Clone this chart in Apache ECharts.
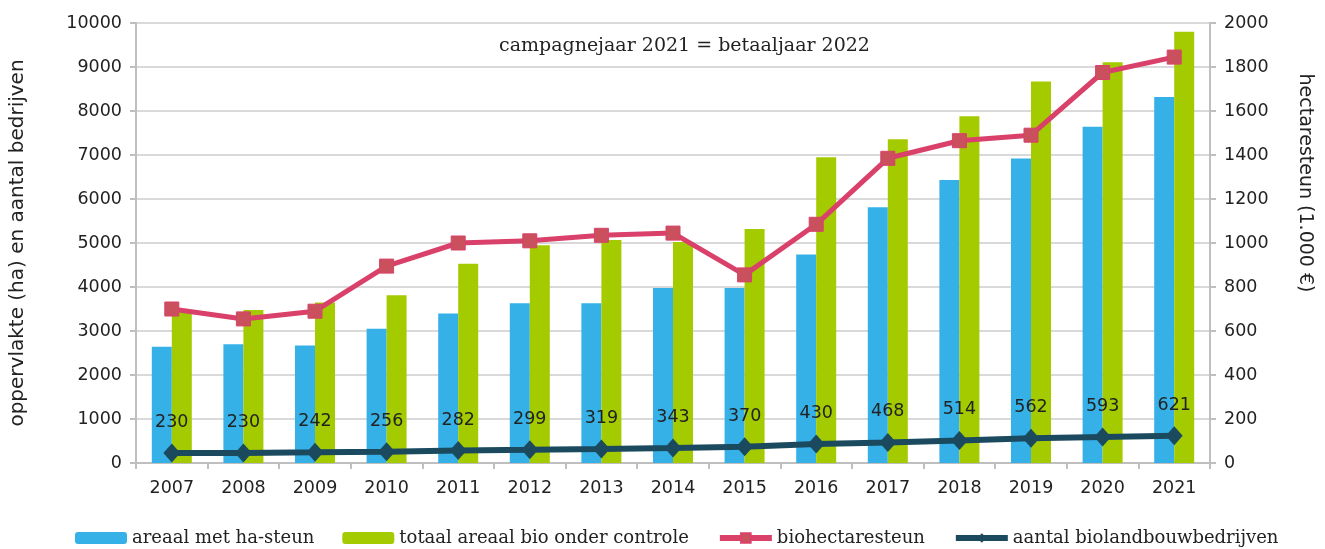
<!DOCTYPE html>
<html>
<head>
<meta charset="utf-8">
<script src="https://cdn.jsdelivr.net/npm/echarts@6/dist/echarts.min.js"></script>
<style>
	html,body{margin:0;padding:0;background:#fff;}
	#chart{width:1325px;height:549px;}
</style>
</head>
<body>
<div id="chart"></div>
<script>
var years = ['2007','2008','2009','2010','2011','2012','2013','2014','2015','2016','2017','2018','2019','2020','2021'];
var areaalSteun = [2640,2700,2670,3050,3400,3630,3630,3980,3980,4740,5810,6430,6920,7640,8320];
var areaalTotaal = [3450,3480,3650,3810,4530,4950,5070,5020,5320,6950,7360,7880,8670,9110,9800];
var hectaresteun = [700,655,690,895,1000,1010,1035,1045,855,1085,1385,1465,1490,1775,1845];
var bedrijven = [230,230,242,256,282,299,319,343,370,430,468,514,562,593,621];

var sans = 'DejaVu Sans';
var serif = 'DejaVu Serif';

var Chart = {
	init: function(){
		var myChart = echarts.init(document.getElementById('chart'));
		myChart.setOption(this.getOption());
	},
	getOption: function(){
		var axisLine = {show: true, lineStyle: {color: '#bfbfbf', width: 2}};
		var tick = {show: true, length: 6, lineStyle: {color: '#bfbfbf', width: 2}};
		var label = {color: '#222', fontFamily: sans, fontSize: 17.5, formatter: function(v){ return String(v); }};

		return {
			animation: false,
			title: {
				text: 'campagnejaar 2021 = betaaljaar 2022',
				left: 494,
				top: 32,
				textStyle: {fontFamily: serif, fontWeight: 'normal', fontSize: 19, color: '#222'}
			},
			grid: {left: 136, right: 115, top: 23, bottom: 86},
			legend: {
				top: 524,
				left: 70,
				itemWidth: 52,
				itemHeight: 12,
				itemGap: 28,
				textStyle: {fontFamily: serif, fontSize: 18, color: '#222'},
				data: [
					{name: 'areaal met ha-steun'},
					{name: 'totaal areaal bio onder controle'},
					{name: 'biohectaresteun', lineStyle: {width: 6}},
					{name: 'aantal biolandbouwbedrijven', lineStyle: {width: 6}}
				]
			},
			xAxis: {
				type: 'category',
				data: years,
				axisLine: axisLine,
				axisTick: tick,
				axisLabel: Object.assign({}, label, {margin: 16}),
				splitLine: {show: false}
			},
			yAxis: [{
				type: 'value',
				min: 0, max: 10000, interval: 1000,
				name: 'oppervlakte (ha) en aantal bedrijven',
				nameLocation: 'middle',
				nameGap: 108,
				nameTextStyle: {fontFamily: sans, fontSize: 20, color: '#222'},
				axisLine: axisLine,
				axisTick: tick,
				axisLabel: Object.assign({}, label, {margin: 14}),
				splitLine: {lineStyle: {color: '#d9d9d9', width: 2}}
			},{
				type: 'value',
				min: 0, max: 2000, interval: 200,
				position: 'right',
				axisLine: axisLine,
				axisTick: tick,
				axisLabel: Object.assign({}, label, {margin: 14}),
				splitLine: {show: false}
			}],
			graphic: [{
				type: 'text',
				x: 1305,
				y: 183,
				rotation: -Math.PI / 2,
				style: {
					text: 'hectaresteun (1.000 €)',
					fontFamily: sans, fontSize: 19, fill: '#222',
					align: 'center', verticalAlign: 'middle'
				}
			}],
			series: [{
				name: 'areaal met ha-steun',
				type: 'bar',
				data: areaalSteun,
				barWidth: 20,
				barGap: '0%',
				itemStyle: {color: '#35b1e8', borderWidth: 0}
			},{
				name: 'totaal areaal bio onder controle',
				type: 'bar',
				data: areaalTotaal,
				barWidth: 20,
				itemStyle: {color: '#a4ca00', borderWidth: 0}
			},{
				name: 'biohectaresteun',
				type: 'line',
				yAxisIndex: 1,
				data: hectaresteun,
				symbol: 'rect',
				symbolSize: 14,
				lineStyle: {color: '#d9416a', width: 5},
				itemStyle: {color: '#c9505c', borderColor: '#d9416a', borderWidth: 1}
			},{
				name: 'aantal biolandbouwbedrijven',
				type: 'line',
				data: bedrijven,
				symbol: 'diamond',
				symbolSize: [17, 19],
				lineStyle: {color: '#1b4a5f', width: 6},
				itemStyle: {color: '#1b4a5f'},
				label: {
					show: true,
					position: 'top',
					distance: 12,
					color: '#222',
					fontFamily: sans,
					fontSize: 17.5
				}
			}]
		};
	}
};

Chart.init();
</script>
</body>
</html>
